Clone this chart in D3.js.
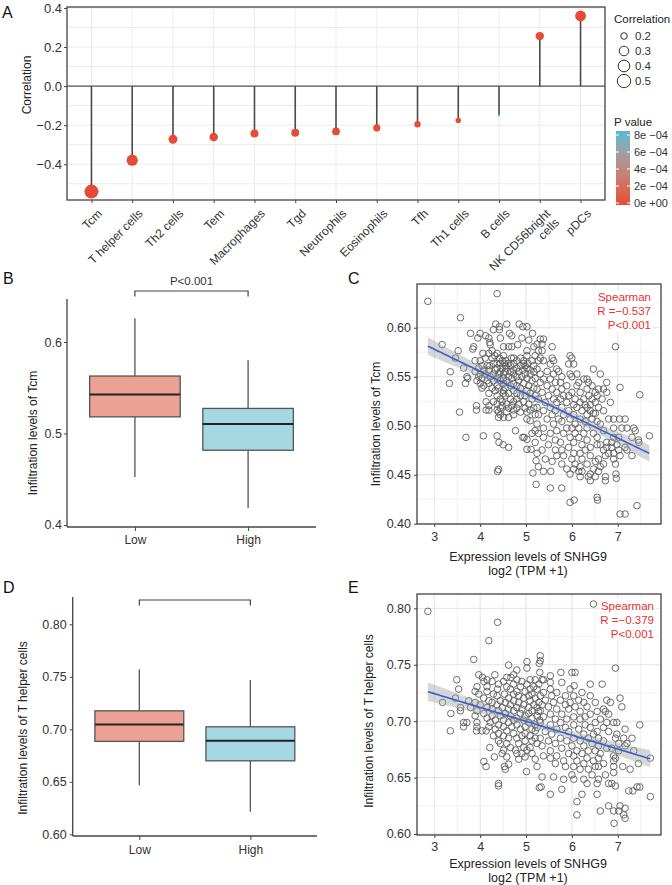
<!DOCTYPE html>
<html><head><meta charset="utf-8">
<script src="https://cdn.jsdelivr.net/npm/d3@7/dist/d3.min.js"></script>
<style>body{margin:0;background:#fff} svg text{font-family:"Liberation Sans",Arial,Helvetica,sans-serif}</style>
</head><body><svg id="fig" width="672" height="885"></svg>
<script>
// ---------------- DATA ----------------
// Panel A
const cells = ["Tcm","T helper cells","Th2 cells","Tem","Macrophages","Tgd","Neutrophils","Eosinophils","Tfh","Th1 cells","B cells","NK CD56bright\ncells","pDCs"];
const corr = [-0.540,-0.379,-0.272,-0.260,-0.243,-0.239,-0.232,-0.214,-0.195,-0.176,-0.149,0.256,0.359];
const pval = [0,0,0,0,0,0,0,0,0,0.00001,0.00085,0,0];
const corrTicks = [0.4,0.2,0,-0.2,-0.4];
const sizeLegend = [0.2,0.3,0.4,0.5];
const pTicks = [0.0008,0.0006,0.0004,0.0002,0];
const pTickLabels = ["8e \u221204","6e \u221204","4e \u221204","2e \u221204","0e +00"];

// Panels B / D : [min, q1, median, q3, max]
const groups = ["Low","High"];
const tcmLow  = [0.4525,0.5182,0.5427,0.5628,0.626];
const tcmHigh = [0.4187,0.4817,0.5105,0.5274,0.580];
const thLow   = [0.6467,0.6885,0.7045,0.7176,0.757];
const thHigh  = [0.6215,0.6700,0.6890,0.7024,0.7469];
const tcmBoxTicks = [0.4,0.5,0.6];
const thBoxTicks = [0.60,0.65,0.70,0.75,0.80];

// Panels C / E : rows of [y, [x...]]
const tcmRows = [
[0.6347,[4.37]],[0.6269,[2.86]],[0.6102,[3.57]],
[0.6037,[4.34,4.58,4.85]],[0.6010,[4.42,4.93,5.02]],[0.5980,[4.29,4.42]],
[0.5942,[3.79,4.00,4.64,5.14]],[0.5918,[4.12,4.69]],[0.5895,[3.95,4.19,4.44,4.91]],
[0.5884,[5.31,5.38]],[0.5874,[5.06]],[0.5850,[4.21]],[0.5833,[5.24,5.35]],
[0.5827,[3.17,4.22,4.82]],[0.5806,[3.86,4.51,4.62,4.69,5.17,5.57,6.95]],[0.5782,[3.84]],
[0.5765,[3.52,4.26,5.02,5.27,5.35]],[0.5738,[4.06,4.19,4.37]],[0.5714,[4.32,4.51,5.02,5.20,5.96]],
[0.5690,[3.46,4.11,4.26,4.42,4.68,4.73,4.88,5.31,5.57,6.00]],
[0.5663,[3.89,4.00,4.48,4.56,4.80,4.95,5.13,5.27,5.38,5.60]],
[0.5636,[4.29,4.37,4.44,4.53,4.62,4.73,4.95,5.04]],
[0.5629,[5.53,5.93,6.04]],
[0.5612,[4.04,4.15,4.21,4.55,4.66,4.88,4.98,5.17]],
[0.5588,[3.64,3.97,4.37,4.48,4.58,4.80,5.02]],
[0.5578,[5.24,5.67,6.47]],
[0.5568,[4.08,4.19,4.33,4.73,4.93,5.09]],
[0.5554,[5.46,5.71]],
[0.5551,[3.35,3.89,4.44,4.55,4.66,4.84,5.17]],
[0.5527,[4.00,4.11,4.29,4.40,4.51,4.73,4.98,5.09,5.31,5.60,5.96,6.11,6.62]],
[0.5500,[3.71,3.97,4.22,4.62,4.80,4.91,5.78,6.00]],
[0.5483,[3.73,4.04,4.37,4.51,4.69,5.02,5.20]],
[0.5476,[5.38,5.53,6.26,6.33]],
[0.5459,[3.93,4.15,4.29,4.44,4.58,4.84,5.13]],
[0.5442,[5.31,5.64,5.75,6.15,6.36,6.76]],
[0.5432,[3.33,3.68,4.00,4.19,4.51,4.73,4.95]],
[0.5408,[4.08,4.37,4.66,4.80,5.06,5.46,5.89,6.11,6.44]],
[0.5391,[7.05]],
[0.5384,[4.04,4.26,4.40,4.55,4.88,5.17]],
[0.5374,[5.24,5.57,5.78,6.33,6.58,6.69]],
[0.5357,[4.33,4.51,4.73,5.02]],
[0.5340,[5.35,5.67,6.00,6.18,6.51,6.76]],
[0.5330,[4.19,4.51,4.62,4.80,5.09]],
[0.5316,[7.48]],
[0.5306,[4.37,4.55,4.88,4.98,5.20,5.49,5.82,5.93,6.37,6.55]],
[0.5272,[4.44,4.66,4.80,5.13,5.27,5.60,5.75,6.07,6.26,6.44,6.66]],
[0.5245,[4.13,4.29,4.48,4.73,4.95]],
[0.5238,[5.42,5.67,5.89,6.18,6.51,6.84]],
[0.5221,[4.37,4.58,4.84,5.06]],
[0.5214,[6.04,6.29,6.40]],
[0.5204,[3.92,4.19,4.48,4.69]],
[0.5187,[5.24,5.53,5.78,6.11,6.33,6.58]],
[0.5180,[4.44,4.62,4.80,4.98,5.17]],
[0.5160,[3.92,4.13,4.19,4.37,4.73,5.09]],
[0.5153,[5.38,5.64,5.93,6.22,6.40,6.69]],
[0.5139,[3.55,4.40,4.58,4.88,5.02]],
[0.5126,[6.47,6.51]],
[0.5112,[4.44,4.73,5.20,5.27,5.57,5.82,6.04,6.33]],
[0.5085,[4.40,4.51,4.62]],
[0.5068,[5.02,5.46,5.71,5.96,6.18,6.44,6.80,6.91,7.04,7.16]],
[0.5051,[5.09]],
[0.5044,[5.78,6.29,6.55]],
[0.5017,[5.24,5.60,6.07,6.62]],
[0.4976,[5.38,5.89,6.00,6.15,6.33,6.91,7.09,7.20,7.35]],
[0.4949,[4.77,5.20,5.67,6.69,7.38]],
[0.4922,[5.13,5.27,5.53,5.82,6.07,6.26,6.47]],
[0.4897,[4.07,4.37,7.69]],
[0.4881,[3.69,4.93,4.96,5.38,5.96,6.15,6.55,6.91,7.02,7.31]],
[0.4861,[5.02]],
[0.4854,[5.64,6.33,7.45]],
[0.4830,[4.41,5.20,5.75,6.04,6.76,6.87,7.46]],
[0.4806,[4.50,5.49,6.22,6.55,6.62,6.98]],
[0.4779,[4.62,5.93,6.40,6.76,6.87,7.16]],
[0.4759,[5.02,5.11]],
[0.4752,[5.35,5.64,5.78,6.29,6.69,7.02,7.20]],
[0.4718,[5.24,6.04,6.18,6.80,6.91]],
[0.4694,[5.67,5.82,6.40,6.73,7.05,7.31]],
[0.4660,[5.42,6.00,6.22,6.58,6.91]],
[0.4643,[5.22]],
[0.4636,[5.57,6.51]],
[0.4609,[5.78,6.07,6.33,6.69,6.95]],
[0.4582,[5.27,6.18,6.62]],
[0.4558,[5.89,6.04,6.47]],
[0.4554,[4.40]],
[0.4534,[4.38,5.38,5.54,6.15,6.22,6.58]],
[0.4517,[5.15]],
[0.4507,[5.96,6.40,6.96]],
[0.4480,[6.18,6.36,6.51,6.73]],
[0.4463,[6.97]],
[0.4439,[6.40,6.73]],
[0.4401,[5.22]],
[0.4364,[5.53,5.78]],
[0.4269,[6.55]],[0.4241,[6.05,6.56]],[0.4218,[5.96]],[0.4184,[7.42]],[0.4099,[7.05,7.16]]
];
const thRows = [
[0.8038,[6.47]],[0.7973,[2.86]],[0.7876,[4.38]],[0.7713,[4.19]],
[0.7580,[5.31]],[0.7547,[3.86]],[0.7536,[5.31]],[0.7527,[5.02]],[0.7512,[5.29]],
[0.7497,[4.62]],[0.7470,[5.02,6.95]],[0.7453,[4.80]],[0.7432,[5.30,5.76,6.00,6.07]],
[0.7411,[3.97,4.32,4.73]],[0.7402,[5.53]],[0.7388,[4.05,4.58,4.67]],
[0.7367,[3.49,4.15,4.80,5.09,5.20,5.35,5.38]],[0.7352,[4.08,4.26,4.51,4.91]],
[0.7343,[5.53,5.78]],[0.7328,[4.40,4.73,5.02,5.28,6.40,6.66]],[0.7314,[6.05]],
[0.7305,[3.93,4.15,4.58,4.88,5.17]],[0.7284,[3.53,4.38,4.66,5.09,5.24,5.53,5.96]],
[0.7263,[3.89,4.15,4.80,4.98]],[0.7254,[5.38,5.67,6.22]],
[0.7240,[3.97,4.29,4.53,4.73,5.13]],[0.7225,[4.37,4.84,5.06,5.31,5.56,5.86,6.04,6.40]],
[0.7204,[3.46,4.08,4.62,4.95,5.20,7.05]],[0.7186,[5.42,5.75,6.15,6.76]],
[0.7180,[3.75,4.19,4.44,4.73,5.09]],[0.7166,[3.18,3.89,4.26,4.55,4.84,5.28,5.60,5.96,6.26,6.51,6.84]],
[0.7145,[4.00,4.37,4.66,4.95,5.17,5.35,5.86]],[0.7127,[5.49,6.07,6.33,7.09]],
[0.7121,[3.57,3.79,4.15,4.48,4.80,5.06,5.24]],[0.7107,[4.26,4.62,4.91,5.67,5.93,6.69]],
[0.7092,[3.57,3.93,4.40,4.73,5.13,5.31]],[0.7086,[5.27,6.18,6.55,6.73]],
[0.7068,[3.36,4.08,4.55,4.88,5.06]],[0.7062,[5.53,5.78,6.40,6.80]],
[0.7047,[3.89,4.26,4.44,4.66,4.98,5.24]],[0.7038,[5.38,6.04,6.29]],
[0.7027,[4.15,4.80,5.13]],[0.7018,[5.64,5.89,6.18,6.62]],
[0.7009,[4.33,4.51,4.73,4.95,5.30]],[0.6988,[3.64,3.71,3.93,4.22,4.62,5.06,5.31,5.75,6.51,6.76,6.91,6.98]],
[0.6967,[4.40,4.80,5.20,5.53,6.04,6.29,7.48]],[0.6950,[3.64,3.93,4.19,4.51,4.69,4.98]],
[0.6944,[5.24,5.86,6.40,6.69]],[0.6929,[4.33,4.88,5.13,5.67,6.15,7.16]],
[0.6914,[3.35,3.92,4.04,4.13,4.58,5.20]],[0.6908,[5.42,5.93,6.55,6.80]],
[0.6891,[4.40,4.73,4.98]],[0.6885,[5.56,6.26,6.47,6.98]],
[0.6870,[4.29,4.51,4.91,5.09]],[0.6849,[4.62,4.80,5.20,5.31,5.75,6.04,6.36,6.58,6.95,7.13,7.31]],
[0.6825,[4.40,4.98,5.13,5.49,5.89,6.18,6.69]],[0.6802,[4.44,4.58,4.84,5.24,5.64,6.44,7.02,7.20]],
[0.6781,[5.35,6.00,6.26,6.58,7.16]],[0.6766,[4.21,4.66,4.95,5.09]],[0.6760,[5.78,6.76,6.87]],
[0.6743,[4.51,4.77,5.02]],[0.6737,[5.53,6.11,6.36,6.51,7.02,7.35]],
[0.6713,[4.48,4.80,4.91,5.13,5.93,6.22,6.62]],[0.6692,[5.38,5.67,6.04,6.91]],
[0.6683,[4.31,4.58,4.98]],[0.6672,[5.53,6.33,6.58,6.95,7.71]],
[0.6663,[4.84,5.20]],[0.6648,[5.82,6.11,6.47,6.91]],[0.6642,[4.08]],
[0.6624,[5.64,6.26,6.69,7.45]],[0.6618,[4.62]],
[0.6598,[4.13,4.53,5.24,5.86,6.04,6.51,6.58,6.91,7.11]],[0.6574,[4.55,6.18,6.36,7.27]],
[0.6553,[5.01]],[0.6544,[6.91]],[0.6524,[6.00,6.44,6.73]],[0.6506,[5.35,5.60]],
[0.6485,[5.82,6.04,6.26,6.58]],[0.6447,[4.40,6.33,6.55,6.80,6.87]],[0.6426,[4.40,6.95]],
[0.6417,[5.33,7.42,7.48]],[0.6411,[5.29]],[0.6396,[5.78]],[0.6382,[7.24,7.33]],
[0.6352,[5.53,6.22,6.55]],[0.6331,[7.71]],[0.6287,[6.11]],[0.6249,[6.80,7.05]],
[0.6228,[7.16]],[0.6204,[6.62,6.91,7.02]],[0.6169,[6.11,7.13]],[0.6139,[7.16]],[0.6095,[6.92]]
];
// fitted lines [intercept, slope]
const tcmFit = [0.646, -0.02266];
const thFit  = [0.7612, -0.01227];
const xTicksSc = [3,4,5,6,7];
const tcmSctTicks = [0.40,0.45,0.50,0.55,0.60];
const thSctTicks = [0.60,0.65,0.70,0.75,0.80];
const tcmStats = ["Spearman","R =\u22120.537","P<0.001"];
const thStats  = ["Spearman","R =\u22120.379","P<0.001"];

// ---------------- DRAW ----------------
const FONT = "'Liberation Sans', Arial, Helvetica, sans-serif";
const svg = d3.select("#fig");
svg.append("rect").attr("width",672).attr("height",885).attr("fill","#fff");
function styleAxis(g, fs){
  g.select(".domain").remove();
  g.selectAll(".tick line").attr("stroke","#444").attr("stroke-width",1);
  g.selectAll(".tick text").attr("font-size",fs).attr("fill","#333").attr("font-family",FONT);
}
function label(t,x,y){ svg.append("text").attr("x",x).attr("y",y).attr("font-size",16).attr("fill","#111").text(t); }

// ===== Panel A =====
const A = {l:67, r:605, t:7, b:200};
const xA = d3.scalePoint().domain(cells).range([A.l, A.r]).padding(0.6);
const yA = d3.scaleLinear().domain([-0.583, 0.405]).range([A.b, A.t]);
const gA = svg.append("g");
gA.selectAll(".gy").data(d3.range(-0.5,0.45,0.1).map(v=>+v.toFixed(1))).join("line")
  .attr("x1",A.l).attr("x2",A.r).attr("y1",d=>yA(d)).attr("y2",d=>yA(d))
  .attr("stroke","#ebebeb").attr("stroke-width",1);
gA.selectAll(".gx").data(cells).join("line")
  .attr("x1",d=>xA(d)).attr("x2",d=>xA(d)).attr("y1",A.t).attr("y2",A.b)
  .attr("stroke","#ebebeb").attr("stroke-width",1);
gA.append("line").attr("x1",A.l).attr("x2",A.r).attr("y1",yA(0)).attr("y2",yA(0)).attr("stroke","#555").attr("stroke-width",1.2);
const aData = cells.map((c,i)=>({c, v:corr[i], p:pval[i]}));
gA.selectAll(".stem").data(aData).join("line")
  .attr("x1",d=>xA(d.c)).attr("x2",d=>xA(d.c)).attr("y1",yA(0)).attr("y2",d=>yA(d.v))
  .attr("stroke","#4a4a4a").attr("stroke-width",1.6);
const absV = corr.map(Math.abs);
const tNorm = d3.scaleLinear().domain([d3.min(absV), d3.max(absV)]);
const rSize = d3.scaleLinear().domain([0,1]).range([1.17, 7]);
const rOf = v => rSize(Math.sqrt(Math.max(0,tNorm(Math.abs(v)))));
const pCol = d3.scaleLinear().domain([0, 0.00085]).range(["#E64B35","#4DBBD5"]).interpolate(d3.interpolateLab);
gA.selectAll(".pt").data(aData).join("circle")
  .attr("cx",d=>xA(d.c)).attr("cy",d=>yA(d.v)).attr("r",d=>rOf(d.v)).attr("fill",d=>pCol(d.p));
gA.append("rect").attr("x",A.l).attr("y",A.t).attr("width",A.r-A.l).attr("height",A.b-A.t)
  .attr("fill","none").attr("stroke","#444").attr("stroke-width",1.3);
const axA = gA.append("g").attr("transform",`translate(${A.l},0)`)
  .call(d3.axisLeft(yA).tickValues(corrTicks).tickSize(3).tickPadding(2).tickFormat(d=>d===0?"0.0":d3.format(".1f")(d)));
styleAxis(axA, 13);
const axAb = gA.append("g").attr("transform",`translate(0,${A.b})`).call(d3.axisBottom(xA).tickSize(3).tickFormat(""));
styleAxis(axAb, 11);
cells.forEach(c=>{
  const lines = c.split("\n");
  const t = gA.append("text").attr("transform",`translate(${xA(c)+5},${A.b+8}) rotate(-45)`)
    .attr("text-anchor","end").attr("font-size",12).attr("fill","#333");
  lines.forEach((ln,i)=>t.append("tspan").attr("x",0).attr("dy", i===0?"0.75em":"1.05em").text(ln));
});
gA.append("text").attr("transform",`translate(31,85) rotate(-90)`).attr("text-anchor","middle")
  .attr("font-size",12).attr("fill","#222").text("Correlation");
// legend: size
gA.append("text").attr("x",614).attr("y",23).attr("font-size",11.5).attr("fill","#222").text("Correlation");
sizeLegend.forEach((v,i)=>{
  const cy = 36 + i*15;
  gA.append("circle").attr("cx",624).attr("cy",cy).attr("r",rOf(v)).attr("fill","none").attr("stroke","#333").attr("stroke-width",1);
  gA.append("text").attr("x",635).attr("y",cy+4).attr("font-size",11.5).attr("fill","#333").text(d3.format(".1f")(v));
});
// legend: colour bar
gA.append("text").attr("x",614).attr("y",126).attr("font-size",11.5).attr("fill","#222").text("P value");
const pBar = d3.scaleLinear().domain([0, 0.0008]).range([203, 135]);
const grad = svg.append("defs").append("linearGradient").attr("id","pgrad").attr("x1",0).attr("x2",0).attr("y1",1).attr("y2",0);
d3.range(0,1.001,0.1).forEach(f=>{
  const pv = pBar.invert(205 + f*(131-205));
  grad.append("stop").attr("offset",f).attr("stop-color",pCol(Math.max(0,pv)));
});
gA.append("rect").attr("x",616).attr("y",131).attr("width",14).attr("height",74).attr("fill","url(#pgrad)");
pTicks.forEach((p,i)=>{
  const y = pBar(p);
  gA.append("line").attr("x1",616).attr("x2",619).attr("y1",y).attr("y2",y).attr("stroke","#fff");
  gA.append("line").attr("x1",627).attr("x2",630).attr("y1",y).attr("y2",y).attr("stroke","#fff");
  gA.append("text").attr("x",634).attr("y",y+4).attr("font-size",11).attr("fill","#333").text(pTickLabels[i]);
});
label("A",2,18);

// ===== Box panels =====
function boxPanel(o){
  const g = svg.append("g");
  const x = d3.scalePoint().domain(groups).range([o.l,o.r]).padding(0.6);
  const y = d3.scaleLinear().domain(o.dom).range([o.b,o.t]);
  const bw = x.step()*0.8;
  const fills = {Low:"#EBA194", High:"#A6D8E4"};
  const data = [{g:"Low",s:o.low},{g:"High",s:o.high}];
  g.selectAll(".wh").data(data).join("line")
    .attr("x1",d=>x(d.g)).attr("x2",d=>x(d.g)).attr("y1",d=>y(d.s[0])).attr("y2",d=>y(d.s[4]))
    .attr("stroke","#555").attr("stroke-width",1.3);
  g.selectAll(".bx").data(data).join("rect")
    .attr("x",d=>x(d.g)-bw/2).attr("width",bw).attr("y",d=>y(d.s[3])).attr("height",d=>y(d.s[1])-y(d.s[3]))
    .attr("fill",d=>fills[d.g]).attr("stroke","#555").attr("stroke-width",1.3);
  g.selectAll(".md").data(data).join("line")
    .attr("x1",d=>x(d.g)-bw/2).attr("x2",d=>x(d.g)+bw/2).attr("y1",d=>y(d.s[2])).attr("y2",d=>y(d.s[2]))
    .attr("stroke","#222").attr("stroke-width",2);
  g.append("line").attr("x1",o.l).attr("x2",o.l).attr("y1",o.t).attr("y2",o.b).attr("stroke","#444").attr("stroke-width",1.3);
  g.append("line").attr("x1",o.l).attr("x2",o.r).attr("y1",o.b).attr("y2",o.b).attr("stroke","#444").attr("stroke-width",1.3);
  const ay = g.append("g").attr("transform",`translate(${o.l},0)`)
    .call(d3.axisLeft(y).tickValues(o.ticks).tickSize(3).tickPadding(o.pad).tickFormat(d3.format(o.fmt)));
  styleAxis(ay, 12.5);
  const ax = g.append("g").attr("transform",`translate(0,${o.b})`)
    .call(d3.axisBottom(x).tickSize(4).tickPadding(o.xpad));
  styleAxis(ax, 12);
  const by = o.bracketY;
  g.append("path").attr("d",`M${x("Low")},${by+5.5}V${by}H${x("High")}V${by+5.5}`)
    .attr("fill","none").attr("stroke","#444").attr("stroke-width",1.2);
  if(o.ptext) g.append("text").attr("x",(x("Low")+x("High"))/2).attr("y",by-6).attr("text-anchor","middle")
    .attr("font-size",11.5).attr("fill","#333").text(o.ptext);
  g.append("text").attr("transform",`translate(${o.titleX},${o.titleY}) rotate(-90)`).attr("text-anchor","middle")
    .attr("font-size",12).attr("fill","#222").text(o.title);
}
boxPanel({l:67,r:316,t:299,b:527,dom:[0.3978,0.647],low:tcmLow,high:tcmHigh,ticks:tcmBoxTicks,fmt:".1f",pad:2,xpad:4,
  bracketY:291,ptext:"P<0.001",title:"Infiltration levels of Tcm",titleX:37,titleY:433});
boxPanel({l:72.7,r:317,t:597,b:836,dom:[0.5984,0.826],low:thLow,high:thHigh,ticks:thBoxTicks,fmt:".2f",pad:3,xpad:5,
  bracketY:600,ptext:null,title:"Infiltration levels of T helper cells",titleX:27,titleY:728});
label("B",3,284); label("D",3,593);

// ===== Scatter panels =====
function scatterPanel(o){
  const g = svg.append("g");
  const x = d3.scaleLinear().domain([2.623,7.943]).range([o.l,o.r]);
  const y = d3.scaleLinear().domain(o.dom).range([o.b,o.t]);
  const pts = [];
  o.rows.forEach(([yy,xs])=>xs.forEach(xx=>pts.push([xx,yy])));
  const minorX = d3.range(2.5,8.01,0.5).filter(v=>v%1!==0 && x(v)>o.l && x(v)<o.r);
  const minorY = o.ticks.map(v=>v+0.025).concat([o.ticks[0]-0.025]).filter(v=>y(v)>o.t && y(v)<o.b);
  g.selectAll(".mx").data(minorX).join("line").attr("x1",d=>x(d)).attr("x2",d=>x(d)).attr("y1",o.t).attr("y2",o.b).attr("stroke","#f2f2f2");
  g.selectAll(".my").data(minorY).join("line").attr("y1",d=>y(d)).attr("y2",d=>y(d)).attr("x1",o.l).attr("x2",o.r).attr("stroke","#f2f2f2");
  g.selectAll(".gx").data(xTicksSc).join("line").attr("x1",d=>x(d)).attr("x2",d=>x(d)).attr("y1",o.t).attr("y2",o.b).attr("stroke","#e3e3e3");
  g.selectAll(".gy").data(o.ticks).join("line").attr("y1",d=>y(d)).attr("y2",d=>y(d)).attr("x1",o.l).attr("x2",o.r).attr("stroke","#e3e3e3");
  g.selectAll(".pt").data(pts).join("circle").attr("cx",d=>x(d[0])).attr("cy",d=>y(d[1])).attr("r",3.3)
    .attr("fill","none").attr("stroke","#5c5c5c").attr("stroke-width",0.9);
  const [b0,b1] = o.fit;
  const n = pts.length, mx = d3.mean(pts,d=>d[0]);
  const sxx = d3.sum(pts,d=>(d[0]-mx)**2);
  const s = Math.sqrt(d3.sum(pts,d=>(d[1]-(b0+b1*d[0]))**2)/(n-2));
  const x0 = d3.min(pts,d=>d[0]), x1 = d3.max(pts,d=>d[0]);
  const xs = d3.range(0,81).map(i=>x0+(x1-x0)*i/80);
  const se = xv => 1.97*s*Math.sqrt(1/n + (xv-mx)**2/sxx);
  g.append("path").datum(xs).attr("fill","#9a9a9a").attr("fill-opacity",0.4)
    .attr("d",d3.area().x(d=>x(d)).y0(d=>y(b0+b1*d-se(d))).y1(d=>y(b0+b1*d+se(d))));
  g.append("path").datum(xs).attr("fill","none").attr("stroke","#3a5fcd").attr("stroke-width",1.6)
    .attr("d",d3.line().x(d=>x(d)).y(d=>y(b0+b1*d)));
  const st = g.append("g");
  const bg = st.append("rect").attr("fill","#fff");
  const tg = st.append("g");
  o.stats.forEach((t,i)=>tg.append("text").attr("x",o.sx).attr("y",o.sy+i*14).attr("text-anchor","end")
    .attr("font-size",11.5).attr("fill","#E8312F").text(t));
  const bb = tg.node().getBBox();
  bg.attr("x",bb.x-1).attr("y",bb.y-1).attr("width",bb.width+3).attr("height",bb.height+2);
  g.append("rect").attr("x",o.l).attr("y",o.t).attr("width",o.r-o.l).attr("height",o.b-o.t)
    .attr("fill","none").attr("stroke","#333").attr("stroke-width",1.2);
  const ay = g.append("g").attr("transform",`translate(${o.l},0)`)
    .call(d3.axisLeft(y).tickValues(o.ticks).tickSize(3).tickPadding(3).tickFormat(d3.format(".2f")));
  styleAxis(ay, 12.5);
  const ax = g.append("g").attr("transform",`translate(0,${o.b})`)
    .call(d3.axisBottom(x).tickValues(xTicksSc).tickSize(3).tickPadding(o.xpad).tickFormat(d3.format("d")));
  styleAxis(ax, 12.5);
  g.append("text").attr("transform",`translate(${o.titleX},${o.titleY}) rotate(-90)`).attr("text-anchor","middle")
    .attr("font-size",12).attr("fill","#222").text(o.title);
  g.append("text").attr("x",528).attr("y",o.xt).attr("text-anchor","middle").attr("font-size",12.5).attr("fill","#222").text("Expression levels of SNHG9");
  g.append("text").attr("x",528).attr("y",o.xt+14).attr("text-anchor","middle").attr("font-size",12.5).attr("fill","#222").text("log2 (TPM +1)");
}
scatterPanel({l:417,r:661,t:284,b:524,dom:[0.3997,0.6446],rows:tcmRows,fit:tcmFit,ticks:tcmSctTicks,stats:tcmStats,
  sx:651,sy:301,xpad:5,title:"Infiltration levels of Tcm",titleX:380,titleY:424,xt:561});
scatterPanel({l:417,r:661,t:594,b:835,dom:[0.5991,0.8127],rows:thRows,fit:thFit,ticks:thSctTicks,stats:thStats,
  sx:654,sy:610,xpad:4,title:"Infiltration levels of T helper cells",titleX:373,titleY:721,xt:868});
label("C",348,284); label("E",348,593);
</script></body></html>
